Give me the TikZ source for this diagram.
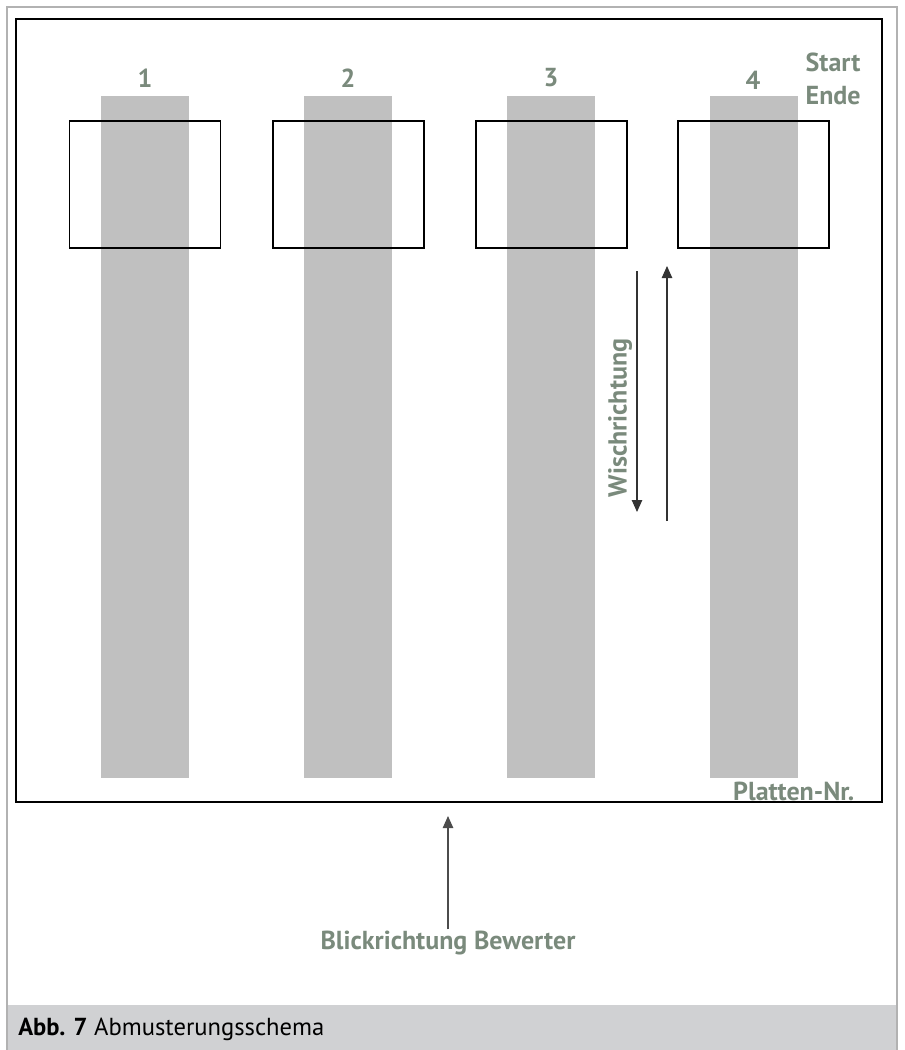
\documentclass[tikz,border=0pt]{standalone}
\usepackage{fontspec}
\setmainfont{PT Sans}
\usepackage{tikz}
\usepackage{xcolor}
\usetikzlibrary{arrows.meta,positioning,calc}

\definecolor{labelgreen}{RGB}{122,138,124}
\definecolor{bargray}{RGB}{192,192,192}
\definecolor{captiongray}{RGB}{208,209,211}

\begin{document}
\begin{tikzpicture}[x=0.025cm, y=-0.025cm,
    bar/.style={fill=bargray, inner sep=0pt, minimum width=2.2cm, minimum height=17.05cm},
    probe/.style={draw, line width=1.1pt, inner sep=0pt, minimum width=3.775cm, minimum height=3.175cm},
    lbl/.style={text=labelgreen, font=\fontsize{18.5}{23}\selectfont\bfseries, inner sep=1pt},
    dir/.style={-{Triangle[length=3mm, width=2.6mm]}, line width=0.9pt, black!80}]
        \useasboundingbox (0,0) rectangle (904,1050);
        % outer frame and caption
        \fill[captiongray] (7,1005) rectangle (897,1050);
        \draw[gray!60, line width=1pt] (7,1050) -- (7,7) -- (897,7) -- (897,1050);
        \node[anchor=west, inner sep=0pt, font=\fontsize{17.5}{19}\selectfont] (cap) at (18,1029) {\textbf{Abb. 7} Abmusterungsschema};
        % plate
        \draw[line width=1.7pt] (16,19) rectangle (882,802);
        \node[bar] (b1) at (145,437) {};
        \node[bar] (b2) at (348,437) {};
        \node[bar] (b3) at (551,437) {};
        \node[bar] (b4) at (754,437) {};
        \node[probe] (p1) at (145,184.5) {};
        \node[probe] (p2) at (348.5,184.5) {};
        \node[probe] (p3) at (551.5,184.5) {};
        \node[probe] (p4) at (753.5,184.5) {};
        \node[lbl] (n1) at (145,78) {1};
        \node[lbl] (n2) at (348,78) {2};
        \node[lbl] (n3) at (551,78) {3};
        \node[lbl] (n4) at (753,80) {4};
        \node[lbl, anchor=west, align=left] (se) at (804,79) {Start\\Ende};
        \node[lbl, anchor=south east] (nr) at (856,803) {Platten-Nr.};
        % wiping direction
        \coordinate (w1) at (637,271);
        \coordinate (w2) at (637,512);
        \coordinate (w3) at (667,521);
        \coordinate (w4) at (667,266);
        \draw[dir] (w1) -- (w2);
        \draw[dir] (w3) -- (w4);
        \node[lbl, rotate=90] (wr) at (620,418) {Wischrichtung};
        % viewing direction
        \node[lbl] (bw) at (448,943) {Blickrichtung Bewerter};
        \coordinate (bt) at (448,816);
        \draw[dir, black!70] (bw.north) -- (bt);
      \end{tikzpicture}
\end{document}
